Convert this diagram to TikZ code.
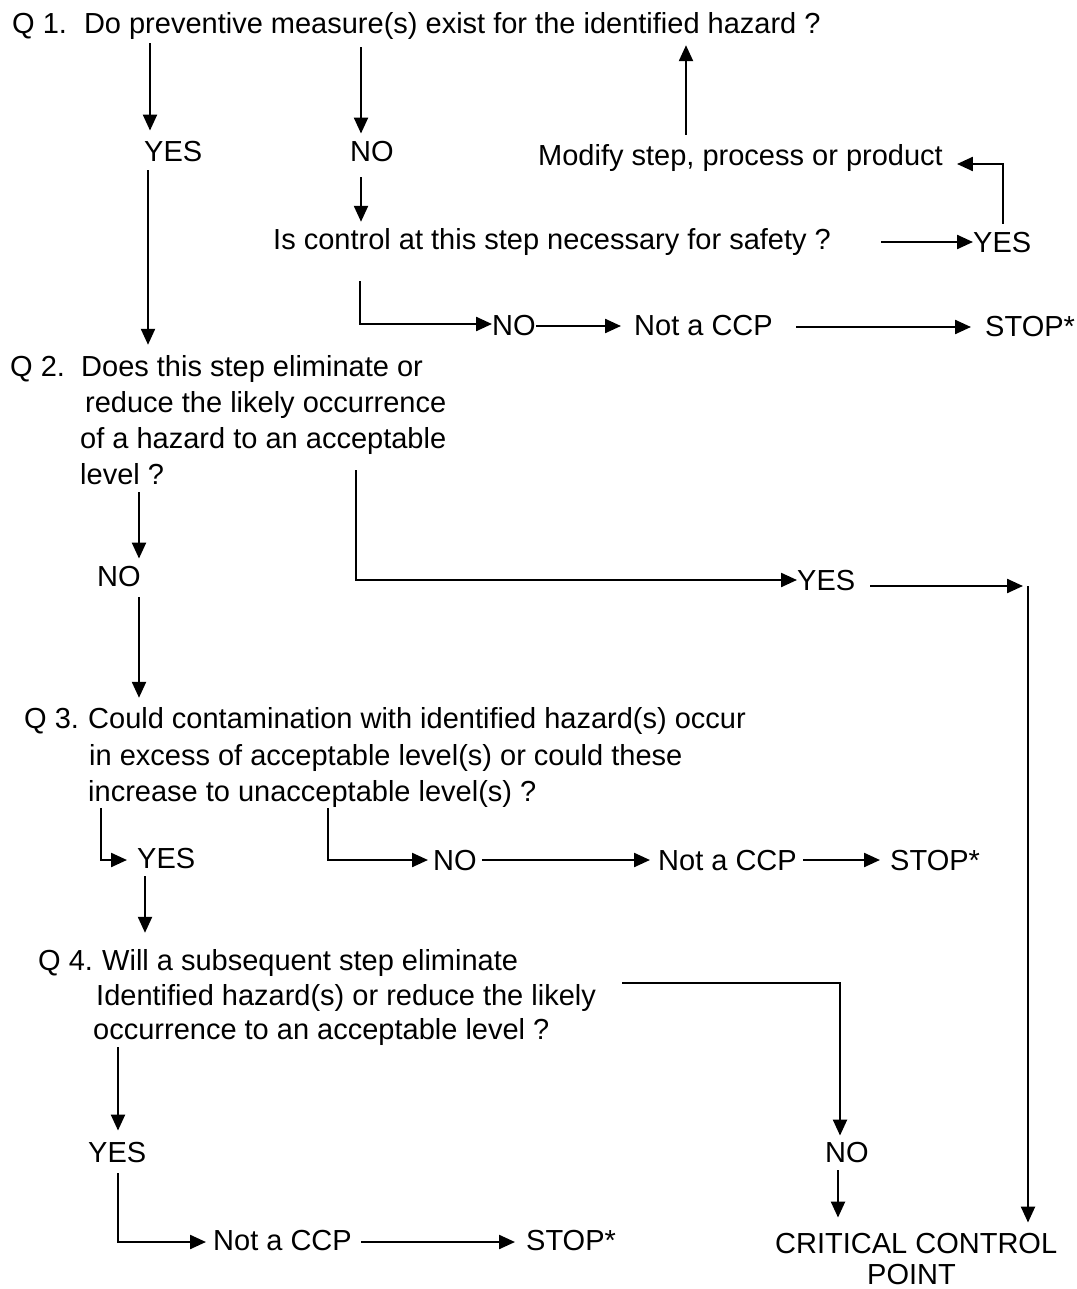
\documentclass[tikz,border=0pt]{standalone}
\usepackage{fontspec}
\setmainfont{Liberation Sans}
\usetikzlibrary{arrows.meta}
\begin{document}
\begin{tikzpicture}[x=1pt,y=-1pt,
  txt/.style={font=\fontsize{29}{34}\selectfont, inner sep=0pt, anchor=base west},
  arr/.style={line width=2.3pt, -{Triangle[length=16pt,width=14pt]}}]
\useasboundingbox (0,0) rectangle (1076,1289);

% ---------- texts ----------
\node[txt] (q1) at (12,34) {Q 1.\hspace{17pt}Do preventive measure(s) exist for the identified hazard ?};
\node[txt] (yes1) at (144,162) {YES};
\node[txt] (no1) at (350,162) {NO};
\node[txt] (modify) at (538,166) {Modify step, process or product};
\node[txt] (isctl) at (273,250) {Is control at this step necessary for safety ?};
\node[txt] (yes2) at (973,252) {YES};
\node[txt] (no2) at (492,335) {NO};
\node[txt] (ncp1) at (634,335) {Not a CCP};
\node[txt] (stop1) at (985,336) {STOP*};

\node[txt] (q2lab) at (10,376) {Q 2.};
\node[txt] (q2a) at (81,376) {Does this step eliminate or};
\node[txt] (q2b) at (85,412) {reduce the likely occurrence};
\node[txt] (q2c) at (80,448) {of a hazard to an acceptable};
\node[txt] (q2d) at (80,484) {level ?};
\node[txt] (no3) at (97,586) {NO};
\node[txt] (yes3) at (797,590) {YES};

\node[txt] (q3lab) at (24,728) {Q 3.};
\node[txt] (q3a) at (88,728) {Could contamination with identified hazard(s) occur};
\node[txt] (q3b) at (89,765) {in excess of acceptable level(s) or could these};
\node[txt] (q3c) at (88,801) {increase to unacceptable level(s) ?};
\node[txt] (yes4) at (137,868) {YES};
\node[txt] (no4) at (433,870) {NO};
\node[txt] (ncp2) at (658,870) {Not a CCP};
\node[txt] (stop2) at (890,870) {STOP*};

\node[txt] (q4lab) at (38,970) {Q 4.};
\node[txt] (q4a) at (102,970) {Will a subsequent step eliminate};
\node[txt] (q4b) at (96,1005) {Identified hazard(s) or reduce the likely};
\node[txt] (q4c) at (93,1039) {occurrence to an acceptable level ?};
\node[txt] (yes5) at (88,1162) {YES};
\node[txt] (no5) at (825,1162) {NO};
\node[txt] (ncp3) at (213,1250) {Not a CCP};
\node[txt] (stop3) at (526,1250) {STOP*};
\node[txt] (ccp1) at (775,1253) {CRITICAL CONTROL};
\node[txt] (ccp2) at (867,1284) {POINT};

% ---------- connectors ----------
\draw[arr,shorten <=3pt,shorten >=11pt] (q1.south -| 150,0) -- (yes1.north -| 150,0);
\draw[arr,shorten <=7pt,shorten >=8pt] (q1.south -| 361,0) -- (no1.north -| 361,0);
\draw[arr,shorten <=15pt,shorten >=7pt] (no1.south -| 361,0) -- (isctl.north -| 361,0);
\draw[arr,shorten <=50pt] (isctl.east |- 0,242) -- (yes2.west |- 0,242);
\draw[arr,shorten <=8pt,shorten >=14pt] (yes2.north -| 1003,0) |- (modify.east |- 0,164);
\draw[arr,shorten <=10pt,shorten >=5pt] (modify.north -| 686,0) -- (q1.south -| 686,0);
\draw[arr,shorten <=25pt] (isctl.south -| 360,0) |- (no2.west |- 0,324);
\draw[arr,shorten >=13pt] (no2.east |- 0,326) -- (ncp1.west |- 0,326);
\draw[arr,shorten <=23pt,shorten >=14pt] (ncp1.east |- 0,327) -- (stop1.west |- 0,327);

\draw[arr,shorten <=8pt,shorten >=10pt] (yes1.south -| 148,0) -- (q2a.north -| 148,0);
\draw[arr,shorten <=8pt,shorten >=7pt] (q2d.south -| 139,0) -- (no3.north -| 139,0);
\draw[arr,shorten <=11pt,shorten >=9pt] (no3.south -| 139,0) -- (q3a.north -| 139,0);
\draw[arr,shorten <=16pt] (q2c.south -| 356,0) |- (yes3.west |- 0,580);
\coordinate (jr) at (1028,586);
\draw[arr,shorten <=15pt,shorten >=5pt] (yes3.east |- jr) -- (jr);
\draw[arr,shorten >=10pt] (jr) -- (ccp1.north -| jr);

\draw[arr,shorten <=1pt,shorten >=10pt] (q3c.south -| 101,0) |- (yes4.west |- 0,860);
\draw[arr,shorten <=1pt,shorten >=5pt] (q3c.south -| 328,0) |- (no4.west |- 0,860);
\draw[arr,shorten <=5pt,shorten >=8pt] (no4.east |- 0,860) -- (ncp2.west |- 0,860);
\draw[arr,shorten <=6pt,shorten >=10pt] (ncp2.east |- 0,860) -- (stop2.west |- 0,860);
\draw[arr,shorten <=8pt,shorten >=16pt] (yes4.south -| 145,0) -- (q4a.north -| 145,0);

\draw[arr,shorten <=26pt,shorten >=6pt] (q4b.north east |- 0,983) -| (no5.north -| 840,0);
\draw[arr,shorten <=8pt,shorten >=15pt] (no5.south -| 838,0) -- (ccp1.north -| 838,0);
\draw[arr,shorten <=2pt,shorten >=11pt] (q4c.south -| 118,0) -- (yes5.north -| 118,0);
\draw[arr,shorten <=11pt,shorten >=7pt] (yes5.south -| 118,0) |- (ncp3.west |- 0,1242);
\draw[arr,shorten <=9pt,shorten >=11pt] (ncp3.east |- 0,1242) -- (stop3.west |- 0,1242);
\end{tikzpicture}
\end{document}
